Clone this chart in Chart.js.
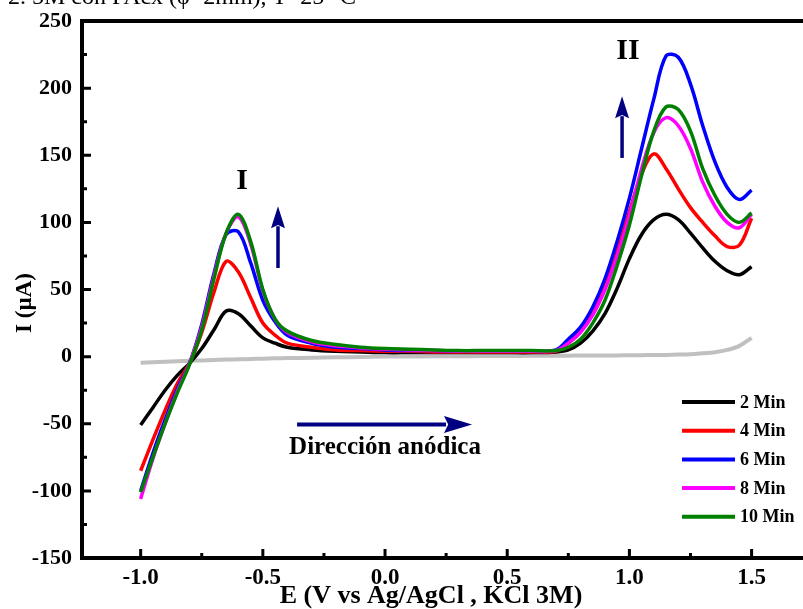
<!DOCTYPE html>
<html>
<head>
<meta charset="utf-8">
<script src="https://cdn.jsdelivr.net/npm/chart.js@4.4.0/dist/chart.umd.min.js"></script>
<style>
  html, body { margin: 0; padding: 0; background: #fff; overflow: hidden; width: 803px; height: 609px; }
  #wrap { position: absolute; left: 0; top: 0; width: 820px; height: 609px; }
  #cap { position: absolute; left: -6px; top: -17px; font: 24px "Liberation Serif", serif; white-space: nowrap; color: #000; }
</style>
</head>
<body>
<div id="wrap"><canvas id="cv" width="820" height="609"></canvas></div>
<div id="cap">r 2. 5M con PAcx (ϕ=2mm), T=25 °C</div>
<script>
// potencial (V vs Ag/AgCl)
const potencial = [-1.0, -0.95, -0.9, -0.85, -0.8, -0.75, -0.7, -0.65, -0.6, -0.55, -0.5, -0.45, -0.4, -0.3, -0.2, -0.1,
  0, 0.1, 0.2, 0.3, 0.4, 0.5, 0.6, 0.7, 0.75, 0.8, 0.85, 0.9, 0.95, 1.0, 1.05, 1.1, 1.15, 1.2, 1.25, 1.3, 1.35, 1.4, 1.45, 1.5];

// corriente (uA) para cada tiempo
const min2 = [-51, -38, -25, -14, -5, 6, 20, 34, 32, 23, 14, 10, 7, 5, 4, 3.5,
  3, 3, 3, 3, 3, 3, 3, 3.5, 5, 10, 19, 32, 51, 73, 91, 102, 106, 102, 92, 81, 71, 64, 61, 67];
const min4 = [-85, -62, -40, -20, -5, 18, 48, 71, 63, 44, 25, 16, 10, 7, 5, 4.5,
  4, 4, 3.5, 3.5, 3.5, 3.5, 3.5, 4, 10, 19, 33, 52, 78, 108, 136, 151, 140, 125, 111, 100, 90, 82, 83, 103];
const min6 = [-100, -72, -47, -24, -5, 24, 62, 91, 93, 70, 42, 26, 16, 10, 7, 6,
  5, 4.5, 4.5, 4, 4, 4, 4, 5, 13, 22, 37, 58, 86, 118, 155, 192, 224, 223, 203, 172, 145, 126, 117, 124];
const min8 = [-106, -76, -50, -26, -5, 22, 60, 92, 104, 84, 49, 28, 18, 11, 8, 6.5,
  5.5, 5, 4.5, 4, 4, 4, 4, 4.5, 10, 18, 31, 50, 75, 105, 140, 167, 178, 172, 155, 130, 112, 100, 96, 106];
const min10 = [-101, -75, -50, -27, -6, 20, 58, 92, 106, 86, 50, 28, 19, 12, 9, 7,
  6, 5.5, 5, 4.5, 4.5, 4.5, 4.5, 4.5, 7, 13, 25, 42, 68, 98, 135, 168, 186, 184, 168, 140, 120, 106, 100, 107];
const blanco = [-4.5, -4.2, -3.8, -3.4, -3, -2.8, -2.5, -2.2, -2, -1.8, -1.5, -1.3, -1.1, -0.8, -0.5, -0.3,
  0, 0.1, 0.2, 0.3, 0.4, 0.5, 0.6, 0.7, 0.7, 0.8, 0.8, 0.9, 0.9, 1, 1.1, 1.2, 1.3, 1.5, 1.8, 2.5, 3.3, 5, 8, 14];

const seriesNames = ["2 Min", "4 Min", "6 Min", "8 Min", "10 Min"];
const seriesColors = ["#000000", "#ff0000", "#0000ff", "#ff00ff", "#008000"];
const seriesData = [min2, min4, min6, min8, min10];

const xTicks = [-1.0, -0.5, 0.0, 0.5, 1.0, 1.5];
const xMinor = [-0.75, -0.25, 0.25, 0.75, 1.25];
const yTicks = [-150, -100, -50, 0, 50, 100, 150, 200, 250];
const yMinor = [-125, -75, -25, 25, 75, 125, 175, 225];

const serif = "'Liberation Serif', 'Times New Roman', serif";

function pares(ys) {
  return potencial.map((x, i) => ({ x: x, y: ys[i] }));
}

const datasets = seriesData.map((d, i) => ({
  label: seriesNames[i],
  data: pares(d),
  borderColor: seriesColors[i],
  borderWidth: 3.5,
  pointRadius: 0,
  tension: 0.35,
  order: 5 - i,
}));
datasets.push({
  label: "blanco",
  data: pares(blanco),
  borderColor: "#c0c0c0",
  borderWidth: 4,
  pointRadius: 0,
  tension: 0.35,
  order: 10,
});

function flecha(ctx, x1, y1, x2, y2, largo, medio) {
  const ang = Math.atan2(y2 - y1, x2 - x1);
  const bx = x2 - largo * Math.cos(ang);
  const by = y2 - largo * Math.sin(ang);
  ctx.beginPath();
  ctx.moveTo(x1, y1);
  ctx.lineTo(bx + 2 * Math.cos(ang), by + 2 * Math.sin(ang));
  ctx.stroke();
  ctx.beginPath();
  ctx.moveTo(x2, y2);
  ctx.lineTo(bx + medio * Math.sin(ang), by - medio * Math.cos(ang));
  ctx.lineTo(bx + 0.15 * largo * Math.cos(ang), by + 0.15 * largo * Math.sin(ang));
  ctx.lineTo(bx - medio * Math.sin(ang), by + medio * Math.cos(ang));
  ctx.closePath();
  ctx.fill();
}

const decor = {
  id: "decor",
  afterDraw(chart) {
    const { ctx, chartArea: a } = chart;
    const sx = chart.scales.x, sy = chart.scales.y;
    ctx.save();
    // marco
    ctx.strokeStyle = "#000";
    ctx.lineWidth = 4;
    ctx.strokeRect(a.left, a.top, a.right - a.left, a.bottom - a.top);
    // marcas hacia dentro
    ctx.lineWidth = 3;
    ctx.beginPath();
    xTicks.forEach((v) => { const p = sx.getPixelForValue(v); ctx.moveTo(p, a.bottom); ctx.lineTo(p, a.bottom - 9); });
    xMinor.forEach((v) => { const p = sx.getPixelForValue(v); ctx.moveTo(p, a.bottom); ctx.lineTo(p, a.bottom - 5); });
    yTicks.forEach((v) => { const p = sy.getPixelForValue(v); ctx.moveTo(a.left, p); ctx.lineTo(a.left + 9, p); });
    yMinor.forEach((v) => { const p = sy.getPixelForValue(v); ctx.moveTo(a.left, p); ctx.lineTo(a.left + 5, p); });
    ctx.stroke();

    // flechas
    ctx.strokeStyle = "#000080";
    ctx.fillStyle = "#000080";
    ctx.lineWidth = 3.5;
    flecha(ctx, sx.getPixelForValue(-0.438), sy.getPixelForValue(66), sx.getPixelForValue(-0.438), sy.getPixelForValue(112), 22, 7);
    flecha(ctx, sx.getPixelForValue(0.97), sy.getPixelForValue(148), sx.getPixelForValue(0.97), sy.getPixelForValue(194), 22, 7);
    ctx.lineWidth = 4;
    flecha(ctx, sx.getPixelForValue(-0.36), sy.getPixelForValue(-50.5), sx.getPixelForValue(0.356), sy.getPixelForValue(-50.5), 28, 8.5);

    // textos
    ctx.fillStyle = "#000";
    ctx.textAlign = "center";
    ctx.textBaseline = "middle";
    ctx.font = "bold 30px " + serif;
    ctx.fillText("I", sx.getPixelForValue(-0.585), sy.getPixelForValue(131));
    ctx.fillText("II", sx.getPixelForValue(0.994), sy.getPixelForValue(227.5));
    ctx.font = "bold 25px " + serif;
    ctx.fillText("Dirección anódica", sx.getPixelForValue(0.0), sy.getPixelForValue(-68));

    // titulos de ejes
    ctx.font = "bold 26px " + serif;
    ctx.fillText("E (V vs Ag/AgCl , KCl 3M)", 431, 596);
    ctx.save();
    ctx.translate(25, 303);
    ctx.rotate(-Math.PI / 2);
    ctx.font = "bold 23px " + serif;
    ctx.fillText("I (µA)", 0, 0);
    ctx.restore();

    // leyenda
    ctx.textAlign = "left";
    ctx.font = "bold 18px " + serif;
    seriesNames.forEach((n, i) => {
      const yy = 402 + i * 28.7;
      ctx.strokeStyle = seriesColors[i];
      ctx.lineWidth = 4;
      ctx.beginPath();
      ctx.moveTo(682, yy);
      ctx.lineTo(735, yy);
      ctx.stroke();
      ctx.fillStyle = "#000";
      ctx.fillText(n, 740, yy + 1);
    });
    ctx.restore();
  },
};

new Chart(document.getElementById("cv"), {
  type: "line",
  data: { datasets: datasets },
  options: {
    responsive: false,
    animation: false,
    devicePixelRatio: 1,
    layout: { padding: { top: 20, right: 10, left: 0, bottom: 0 } },
    plugins: { legend: { display: false }, tooltip: { enabled: false } },
    scales: {
      x: {
        type: "linear",
        min: -1.24,
        max: 1.739,
        afterFit: (s) => { s.height = 51; },
        afterBuildTicks: (s) => { s.ticks = xTicks.map((v) => ({ value: v })); },
        grid: { display: false, drawTicks: false },
        border: { display: false },
        ticks: {
          padding: 9,
          color: "#000",
          maxRotation: 0,
          font: { family: serif, size: 23, weight: "bold", lineHeight: 1 },
          callback: (v) => Number(v).toFixed(1),
        },
        title: { display: false },
      },
      y: {
        min: -150,
        max: 250,
        afterFit: (s) => { s.width = 82; },
        afterBuildTicks: (s) => { s.ticks = yTicks.map((v) => ({ value: v })); },
        grid: { display: false, drawTicks: false },
        border: { display: false },
        ticks: {
          padding: 10,
          color: "#000",
          font: { family: serif, size: 22, weight: "bold", lineHeight: 1 },
        },
        title: { display: false },
      },
    },
  },
  plugins: [decor],
});
</script>
</body>
</html>
